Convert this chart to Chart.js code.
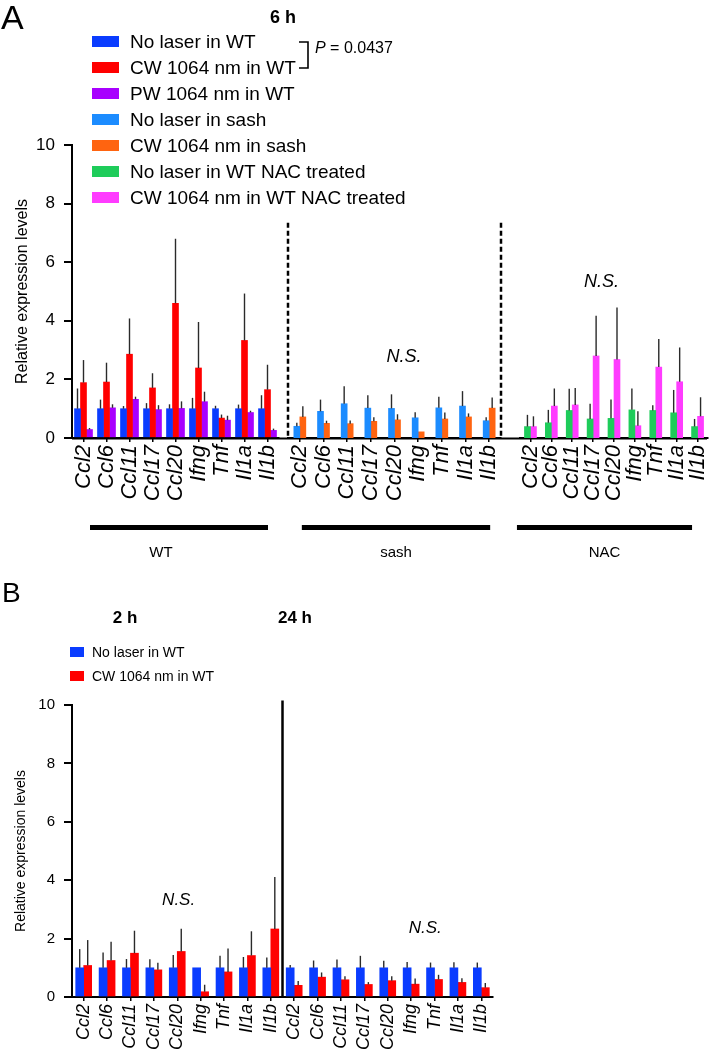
<!DOCTYPE html>
<html><head><meta charset="utf-8">
<script src="https://cdn.jsdelivr.net/npm/chart.js@4.4.1/dist/chart.umd.min.js"></script>
<style>
html,body{margin:0;padding:0;background:#fff;}
#wrap{position:relative;width:709px;height:1050px;overflow:hidden;background:#fff;}
.box{position:absolute;left:0;width:709px;}
</style></head><body>
<div id="wrap">
 <div class="box" style="top:0;height:580px"><canvas id="a1"></canvas></div>
 <div class="box" style="top:0;height:580px"><canvas id="a2"></canvas></div>
 <div class="box" style="top:0;height:580px"><canvas id="a3"></canvas></div>
 <div class="box" style="top:560px;height:490px"><canvas id="b"></canvas></div>
</div>
<script>
const FONT = '"Liberation Sans", Arial, Helvetica, sans-serif';

// ---------- shared ----------
const GENES = ['Ccl2','Ccl6','Ccl11','Ccl17','Ccl20','Ifng','Tnf','Il1a','Il1b'];
const Y_MIN = 0, Y_MAX = 10, Y_STEP = 2;
const Y_TITLE = 'Relative expression levels';
const NS_TEXT = 'N.S.';

// ---------- panel A (6 h) ----------
const PANEL_A = 'A';
const TIME_A = '6 h';
const WT_NOLASER    = [1.00,1.00,1.00,1.00,1.00,1.00,1.00,1.00,1.00];
const WT_NOLASER_SD = [0.69,0.31,0.09,0.19,0.15,0.37,0.10,0.14,0.46];
const WT_CW         = [1.89,1.91,2.86,1.71,4.60,2.39,0.68,3.33,1.65];
const WT_CW_SD      = [0.77,0.66,1.22,0.50,2.20,1.57,0.12,1.60,0.85];
const WT_PW         = [0.29,1.03,1.32,0.97,1.01,1.24,0.61,0.87,0.26];
const WT_PW_SD      = [0.05,0.12,0.09,0.15,0.24,0.34,0.15,0.06,0.06];

const SASH_NOLASER    = [0.40,0.91,1.17,1.02,1.01,0.69,1.03,1.09,0.59];
const SASH_NOLASER_SD = [0.12,0.40,0.60,0.44,0.48,0.19,0.38,0.51,0.12];
const SASH_CW         = [0.72,0.50,0.49,0.57,0.62,0.21,0.65,0.72,1.02];
const SASH_CW_SD      = [0.36,0.09,0.11,0.14,0.19,0.00,0.22,0.12,0.36];

const NAC_NOLASER    = [0.39,0.52,0.94,0.65,0.67,0.96,0.94,0.86,0.39];
const NAC_NOLASER_SD = [0.40,0.44,0.74,0.52,0.64,0.73,0.18,0.78,0.26];
const NAC_CW         = [0.39,1.09,1.13,2.80,2.68,0.42,2.42,1.92,0.74];
const NAC_CW_SD      = [0.35,0.60,0.58,1.37,1.77,0.49,0.96,1.17,0.65];

const SERIES_A_NAMES = ['No laser in WT','CW 1064 nm in WT','PW 1064 nm in WT','No laser in sash',
  'CW 1064 nm in sash','No laser in WT NAC treated','CW 1064 nm in WT NAC treated'];
const SERIES_A_COLORS = ['#0A3CFF','#FF0000','#A800FF','#1C8CFF','#FF6410','#1ECC5A','#FF3CFF'];
const GROUPS_A = ['WT','sash','NAC'];
const P_LETTER = 'P';
const P_VALUE = ' = 0.0437';

// ---------- panel B (2 h / 24 h) ----------
const PANEL_B = 'B';
const TIMES_B = ['2 h','24 h'];
const H2_NOLASER     = [1.00,1.00,1.00,1.00,1.00,1.00,1.00,1.00,1.00];
const H2_NOLASER_SD  = [0.64,0.52,0.30,0.29,0.44,0.00,0.41,0.37,0.35];
const H2_CW          = [1.08,1.25,1.50,0.93,1.56,0.18,0.86,1.42,2.33];
const H2_CW_SD       = [0.87,0.64,0.77,0.24,0.78,0.24,0.80,0.83,1.78];
const H24_NOLASER    = [1.00,1.00,1.00,1.00,1.00,1.00,1.00,1.00,1.00];
const H24_NOLASER_SD = [0.10,0.25,0.28,0.41,0.24,0.20,0.18,0.19,0.18];
const H24_CW         = [0.40,0.68,0.59,0.43,0.56,0.44,0.60,0.50,0.32];
const H24_CW_SD      = [0.15,0.16,0.12,0.08,0.15,0.19,0.16,0.14,0.16];
const SERIES_B_NAMES = ['No laser in WT','CW 1064 nm in WT'];
const SERIES_B_COLORS = ['#0A3CFF','#FF0000'];

// ---------- helpers ----------
const errorBars = {
  id: 'errorBars',
  afterDatasetsDraw(chart) {
    const ctx = chart.ctx, ys = chart.scales.y;
    ctx.save();
    ctx.strokeStyle = '#2a2a2a';
    ctx.lineWidth = 1.4;
    chart.data.datasets.forEach((ds, di) => {
      if (!ds.errors) return;
      chart.getDatasetMeta(di).data.forEach((el, i) => {
        const v = ds.data[i], e = ds.errors[i];
        if (v == null || !e) return;
        ctx.beginPath();
        ctx.moveTo(el.x, ys.getPixelForValue(v));
        ctx.lineTo(el.x, ys.getPixelForValue(v + e));
        ctx.stroke();
      });
    });
    ctx.restore();
  }
};

function xScale(fontSize, height) {
  return {
    type: 'category', offset: true,
    grid: {display: true, offset: false, drawOnChartArea: false, drawTicks: true, tickLength: 4, color: '#000', lineWidth: 1.5},
    border: {display: true, color: '#000', width: 2},
    ticks: {autoSkip: false, maxRotation: 90, minRotation: 90, padding: 3, color: '#000',
      font: {family: FONT, size: fontSize, style: 'italic'}},
    afterFit(s) { s.height = height; s.paddingLeft = 0; s.paddingRight = 0; }
  };
}
function yScale(show, tickSize, titleSize, titlePad) {
  return {
    display: show, min: Y_MIN, max: Y_MAX,
    grid: {display: true, drawOnChartArea: false, drawTicks: true, tickLength: 8, color: '#000', lineWidth: 2},
    border: {display: true, color: '#000', width: 2},
    ticks: {stepSize: Y_STEP, padding: 9, color: '#000', font: {family: FONT, size: tickSize}},
    title: {display: true, text: Y_TITLE, color: '#000', font: {family: FONT, size: titleSize}, padding: {top: titlePad, bottom: 0}},
    afterFit(s) { if (show) s.width = 72; }
  };
}
function baseOptions(padding, xs, ys, barThickness) {
  return {
    responsive: true, maintainAspectRatio: false, animation: false, devicePixelRatio: 1,
    events: [],
    layout: {padding},
    plugins: {legend: {display: false}, tooltip: {enabled: false}},
    datasets: {bar: {barThickness, borderWidth: 0}},
    scales: {x: xs, y: ys}
  };
}
function text(ctx, str, x, y, font, align, baseline) {
  ctx.font = font; ctx.fillStyle = '#000';
  ctx.textAlign = align || 'left'; ctx.textBaseline = baseline || 'middle';
  ctx.fillText(str, x, y);
}
function groupBar(chart, label, insetL, insetR, labelShift) {
  const ctx = chart.ctx, xs = chart.scales.x, n = chart.data.labels.length;
  const x0 = xs.getPixelForValue(0) + insetL, x1 = xs.getPixelForValue(n - 1) + insetR;
  const yb = chart.chartArea.bottom + 87;
  ctx.fillStyle = '#000';
  ctx.fillRect(x0, yb, x1 - x0, 5);
  text(ctx, label, (x0 + x1) / 2 + labelShift, yb + 28, '15px ' + FONT, 'center');
}
function nsLabel(chart, idx, val, size) {
  const xs = chart.scales.x, ys = chart.scales.y;
  text(chart.ctx, NS_TEXT, xs.getPixelForValue(0) + idx * (xs.getPixelForValue(1) - xs.getPixelForValue(0)),
    ys.getPixelForValue(val), 'italic ' + size + 'px ' + FONT, 'center');
}

// ---------- panel A charts ----------
const A_AXIS_END = 707;
const decoA1 = {
  id: 'decoA1',
  afterDraw(chart) {
    const ctx = chart.ctx, ca = chart.chartArea;
    ctx.save();
    text(ctx, PANEL_A, 1, 29, '34px ' + FONT, 'left', 'alphabetic');
    text(ctx, TIME_A, 283, 18, 'bold 18px ' + FONT, 'center');
    SERIES_A_NAMES.forEach((name, i) => {
      const cy = 42 + i * 26;
      ctx.fillStyle = SERIES_A_COLORS[i];
      ctx.fillRect(92, cy - 6, 27, 11);
      text(ctx, name, 130, cy + 1, '19px ' + FONT, 'left');
    });
    // bracket and P value
    ctx.strokeStyle = '#000'; ctx.lineWidth = 1.6;
    ctx.beginPath(); ctx.moveTo(299, 42); ctx.lineTo(308, 42); ctx.lineTo(308, 68); ctx.lineTo(299, 68); ctx.stroke();
    text(ctx, P_LETTER, 315, 49, 'italic 16px ' + FONT, 'left');
    ctx.font = 'italic 16px ' + FONT;
    const pw = ctx.measureText(P_LETTER).width;
    text(ctx, P_VALUE, 315 + pw, 49, '16px ' + FONT, 'left');
    // continuous x axis line
    ctx.strokeStyle = '#000'; ctx.lineWidth = 2;
    ctx.beginPath(); ctx.moveTo(ca.left, ca.bottom + 0.5); ctx.lineTo(A_AXIS_END, ca.bottom + 0.5); ctx.stroke();
    groupBar(chart, GROUPS_A[0], 6.5, 0.5, -18);
    ctx.restore();
  }
};
const decoA2 = {
  id: 'decoA2',
  afterDraw(chart) {
    const ctx = chart.ctx, ca = chart.chartArea, ys = chart.scales.y;
    ctx.save();
    ctx.strokeStyle = '#000'; ctx.lineWidth = 2.5; ctx.setLineDash([5, 3]);
    [ca.left, ca.right].forEach(x => {
      ctx.beginPath(); ctx.moveTo(x, ys.getPixelForValue(7.35)); ctx.lineTo(x, ca.bottom); ctx.stroke();
    });
    ctx.setLineDash([]);
    groupBar(chart, GROUPS_A[1], 2, 1, 0);
    nsLabel(chart, 4.4, 2.75, 18);
    ctx.restore();
  }
};
const decoA3 = {
  id: 'decoA3',
  afterDraw(chart) {
    const ctx = chart.ctx;
    ctx.save();
    groupBar(chart, GROUPS_A[2], -13.5, -5.5, 0);
    nsLabel(chart, 3.4, 5.32, 18);
    ctx.restore();
  }
};

const A_XH = 142;
const A_LABEL_SIZE = 22;
new Chart(document.getElementById('a1'), {
  type: 'bar',
  data: {labels: GENES, datasets: [
    {label: SERIES_A_NAMES[0], data: WT_NOLASER, errors: WT_NOLASER_SD, backgroundColor: SERIES_A_COLORS[0]},
    {label: SERIES_A_NAMES[1], data: WT_CW, errors: WT_CW_SD, backgroundColor: SERIES_A_COLORS[1]},
    {label: SERIES_A_NAMES[2], data: WT_PW, errors: WT_PW_SD, backgroundColor: SERIES_A_COLORS[2]}
  ]},
  options: baseOptions({top: 145, left: 0, right: 430, bottom: 0}, xScale(A_LABEL_SIZE, A_XH), yScale(true, 17, 16, 13), 6),
  plugins: [errorBars, decoA1]
});
new Chart(document.getElementById('a2'), {
  type: 'bar',
  data: {labels: GENES, datasets: [
    {label: SERIES_A_NAMES[3], data: SASH_NOLASER, errors: SASH_NOLASER_SD, backgroundColor: SERIES_A_COLORS[3]},
    {label: SERIES_A_NAMES[4], data: SASH_CW, errors: SASH_CW_SD, backgroundColor: SERIES_A_COLORS[4]}
  ]},
  options: baseOptions({top: 145, left: 288, right: 208, bottom: 0}, xScale(A_LABEL_SIZE, A_XH), yScale(false, 17, 16, 13), 6),
  plugins: [errorBars, decoA2]
});
new Chart(document.getElementById('a3'), {
  type: 'bar',
  data: {labels: GENES, datasets: [
    {label: SERIES_A_NAMES[5], data: NAC_NOLASER, errors: NAC_NOLASER_SD, backgroundColor: SERIES_A_COLORS[5]},
    {label: SERIES_A_NAMES[6], data: NAC_CW, errors: NAC_CW_SD, backgroundColor: SERIES_A_COLORS[6]}
  ]},
  options: baseOptions({top: 145, left: 520, right: 1, bottom: 0}, xScale(A_LABEL_SIZE, A_XH), yScale(false, 17, 16, 13), 6),
  plugins: [errorBars, decoA3]
});

// ---------- panel B chart ----------
const decoB = {
  id: 'decoB',
  afterDraw(chart) {
    const ctx = chart.ctx, ca = chart.chartArea, xs = chart.scales.x, ys = chart.scales.y;
    ctx.save();
    text(ctx, PANEL_B, 2, 42, '28px ' + FONT, 'left', 'alphabetic');
    text(ctx, TIMES_B[0], 125, 58, 'bold 17px "Liberation Sans Narrow", ' + FONT, 'center');
    text(ctx, TIMES_B[1], 295, 58, 'bold 17px "Liberation Sans Narrow", ' + FONT, 'center');
    SERIES_B_NAMES.forEach((name, i) => {
      const cy = 92 + i * 24;
      ctx.fillStyle = SERIES_B_COLORS[i];
      ctx.fillRect(70, cy - 5, 14, 10);
      text(ctx, name, 92, cy + 1, '14px ' + FONT, 'left');
    });
    const n = GENES.length;
    const xd = (xs.getPixelForValue(n - 1) + xs.getPixelForValue(n)) / 2;
    ctx.strokeStyle = '#000'; ctx.lineWidth = 2.5;
    ctx.beginPath(); ctx.moveTo(xd, ys.getPixelForValue(10.15)); ctx.lineTo(xd, ca.bottom); ctx.stroke();
    nsLabel(chart, 4.06, 3.32, 17);
    nsLabel(chart, 14.6, 2.36, 17);
    ctx.restore();
  }
};
new Chart(document.getElementById('b'), {
  type: 'bar',
  data: {labels: GENES.concat(GENES), datasets: [
    {label: SERIES_B_NAMES[0], data: H2_NOLASER.concat(H24_NOLASER), errors: H2_NOLASER_SD.concat(H24_NOLASER_SD), backgroundColor: SERIES_B_COLORS[0]},
    {label: SERIES_B_NAMES[1], data: H2_CW.concat(H24_CW), errors: H2_CW_SD.concat(H24_CW_SD), backgroundColor: SERIES_B_COLORS[1]}
  ]},
  options: baseOptions({top: 145, left: 0, right: 216, bottom: 0}, xScale(18, 53), yScale(true, 15, 14, 13), 8),
  plugins: [errorBars, decoB]
});
</script>
</body></html>
